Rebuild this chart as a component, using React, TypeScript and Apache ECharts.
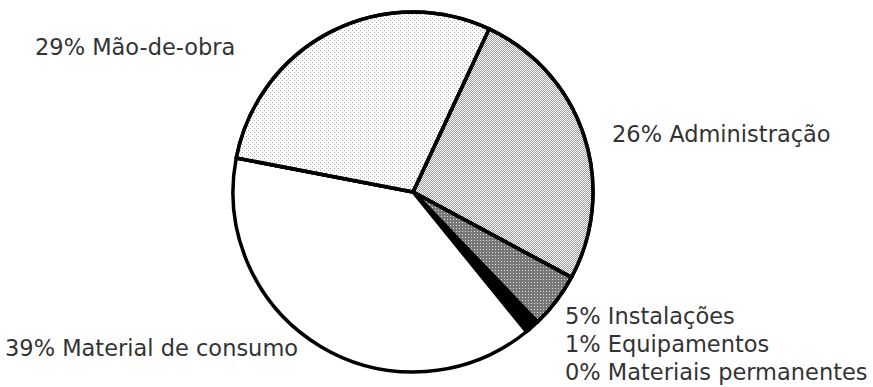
import React, { useEffect, useRef } from "react";
import * as echarts from "echarts";

const categories = [
  "Administração",
  "Instalações",
  "Equipamentos",
  "Materiais permanentes",
  "Material de consumo",
  "Mão-de-obra",
];
const values = [26, 5, 1, 0.3, 39, 29];

// label anchor positions (left x, middle y) in px
const labelPos: [number, number][] = [
  [612, 134],
  [565, 316],
  [565, 344],
  [565, 372],
  [5, 348],
  [35, 47],
];

const sliceStyles: any[] = [
  {
    color: "#ffffff",
    decal: {
      symbol: "rect",
      symbolSize: 1,
      color: "#999999",
      dashArrayX: [[1, 1], [0, 1, 1, 0]],
      dashArrayY: [1, 0],
    },
  },
  {
    color: "#777777",
    decal: {
      symbol: "rect",
      symbolSize: 1,
      color: "#e0e0e0",
      dashArrayX: [1, 2],
      dashArrayY: [1, 2],
    },
  },
  { color: "#000000" },
  { color: "#ffffff" },
  { color: "#ffffff" },
  {
    color: "#ffffff",
    decal: {
      symbol: "rect",
      symbolSize: 1,
      color: "#a8a8a8",
      dashArrayX: [[1, 3], [0, 2, 1, 1]],
      dashArrayY: [1, 1],
    },
  },
];

export default function App() {
  const ref = useRef<HTMLDivElement>(null);
  useEffect(() => {
    if (!ref.current) return;
    const chart = echarts.init(ref.current, null, { renderer: "svg" });
    const total = values.reduce((a, b) => a + b, 0);
    chart.setOption({
      animation: false,
      backgroundColor: "#ffffff",
      series: [
        {
          type: "pie",
          center: [413, 192],
          radius: 180,
          startAngle: 65,
          clockwise: true,
          avoidLabelOverlap: false,
          minAngle: 0,
          itemStyle: { borderColor: "#000000", borderWidth: 3.5 },
          label: {
            show: true,
            position: "outside",
            fontFamily: "DejaVu Sans",
            fontSize: 22.5,
            color: "#333333",
            formatter: (p: any) =>
              `${Math.round((p.value / total) * 100)}% ${p.name}`,
          },
          labelLine: { show: false },
          labelLayout: (p: any) => {
            const pos = labelPos[p.dataIndex];
            return {
              x: pos[0],
              y: pos[1],
              align: "left",
              verticalAlign: "middle",
            };
          },
          emphasis: { disabled: true },
          data: categories.map((name, i) => ({
            name,
            value: values[i],
            itemStyle: sliceStyles[i],
          })),
        },
      ],
    });
    return () => chart.dispose();
  }, []);
  return (
    <div
      ref={ref}
      style={{ position: "fixed", left: 0, top: 0, width: 873, height: 387 }}
    />
  );
}
